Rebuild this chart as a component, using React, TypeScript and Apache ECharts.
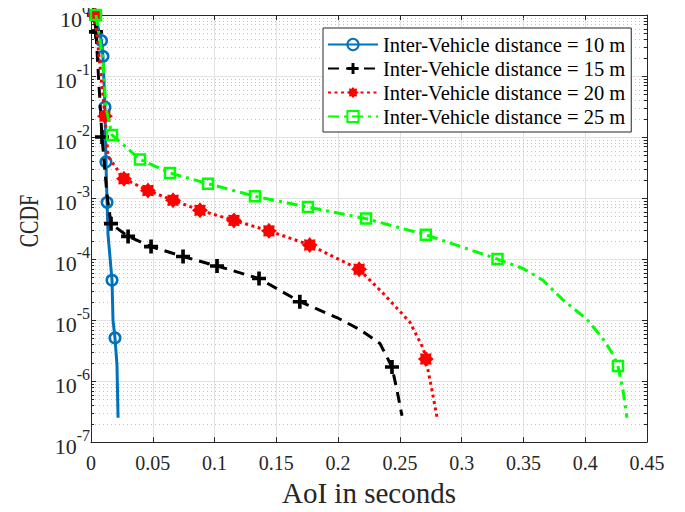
import React, { useEffect, useRef } from "react";
import * as echarts from "echarts";

const FONT = '"Liberation Serif", "Times New Roman", serif';

// x tick labels / axis extents
const xMin = 0;
const xMax = 0.45;
const xStep = 0.05;
const yMin = 1e-7;
const yMax = 1;
const minorFactors = [2, 3, 4, 5, 6, 7, 8, 9];
const decadeExps = [-7, -6, -5, -4, -3, -2, -1];

const seriesNames = [
  "Inter-Vehicle distance = 10 m",
  "Inter-Vehicle distance = 15 m",
  "Inter-Vehicle distance = 20 m",
  "Inter-Vehicle distance = 25 m",
];

// [AoI (s), CCDF]
const curve10: [number, number][] = [
  [0.0032, 1], [0.0085, 0.38], [0.0097, 0.21], [0.0113, 0.031], [0.0121, 0.0039],
  [0.013, 8.5e-4], [0.0138, 2.5e-4], [0.017, 4.5e-5], [0.0178, 1.0e-5], [0.0194, 5.1e-6],
  [0.021, 1.9e-6], [0.0219, 2.5e-7],
];
const markers10 = [0, 1, 2, 3, 4, 5, 7, 9];

const curve15: [number, number][] = [
  [0.0024, 1], [0.004, 0.53], [0.0089, 0.01], [0.013, 1.1e-3], [0.0162, 3.8e-4],
  [0.03, 2.35e-4], [0.0486, 1.6e-4], [0.0745, 1.1e-4], [0.102, 7.7e-5], [0.136, 4.8e-5],
  [0.169, 2.0e-5], [0.199, 1.1e-5], [0.218, 6.9e-6], [0.234, 4.1e-6], [0.2436, 1.7e-6],
  [0.2477, 7e-7], [0.2517, 2.7e-7],
];
const markers15 = [0, 1, 2, 4, 5, 6, 7, 8, 9, 10, 14];

const curve20: [number, number][] = [
  [0.0032, 1], [0.0113, 0.022], [0.0138, 0.0048], [0.0267, 2.07e-3], [0.0461, 1.33e-3],
  [0.0664, 9.2e-4], [0.0882, 6.3e-4], [0.1157, 4.3e-4], [0.144, 2.9e-4], [0.177, 1.7e-4],
  [0.217, 6.8e-5], [0.236, 2.8e-5], [0.258, 9.3e-6], [0.269, 3.4e-6], [0.271, 2.3e-6],
  [0.276, 7e-7], [0.28, 2.6e-7],
];
const markers20 = [0, 1, 3, 4, 5, 6, 7, 8, 9, 10, 14];

const curve25: [number, number][] = [
  [0.004, 1], [0.0097, 0.19], [0.0121, 0.03], [0.017, 0.0108], [0.0397, 4.3e-3],
  [0.0639, 2.58e-3], [0.0947, 1.72e-3], [0.1327, 1.07e-3], [0.1756, 7.1e-4], [0.2226, 4.6e-4],
  [0.271, 2.5e-4], [0.329, 1.0e-4], [0.3496, 7.0e-5], [0.3658, 4.5e-5], [0.382, 2.14e-5],
  [0.4014, 1.03e-5], [0.4144, 4.9e-6], [0.4225, 2.75e-6], [0.4265, 1.77e-6], [0.4306, 7e-7],
  [0.4338, 2.5e-7],
];
const markers25 = [0, 3, 4, 5, 6, 7, 8, 9, 10, 11, 18];

const PLUS = "path://M37,0H63V37H100V63H63V100H37V63H0V37H37Z";
function starPath(points: number, inner: number) {
  let d = "path://";
  for (let i = 0; i < points * 2; i++) {
    const r = i % 2 === 0 ? 50 : 50 * inner;
    const a = (Math.PI * i) / points - Math.PI / 2;
    d += (i === 0 ? "M" : "L") + (50 + r * Math.cos(a)).toFixed(2) + "," + (50 + r * Math.sin(a)).toFixed(2);
  }
  return d + "Z";
}
const STAR = starPath(8, 0.72);

function withMarkers(curve: [number, number][], marks: number[]) {
  return curve.map((p, i) => (marks.includes(i) ? { value: p } : { value: p, symbol: "none" }));
}

export default function App() {
  const ref = useRef<HTMLDivElement>(null);
  useEffect(() => {
    if (!ref.current) return;
    const chart = echarts.init(ref.current, null, { renderer: "svg" });
    const minorVals: number[][] = [];
    decadeExps.forEach((e) => minorFactors.forEach((f) => minorVals.push([0, f * Math.pow(10, e)])));
    const axisColor = "#262626";
    const gridColor = "#e3e3e3";
    const option: any = {
      animation: false,
      backgroundColor: "#fff",
      grid: { left: 91, top: 15, right: 38, bottom: 59 },
      graphic: [
        {
          type: "text",
          x: 28,
          y: 221,
          rotation: Math.PI / 2,
          scaleX: 0.72,
          style: {
            text: "CCDF",
            fontFamily: FONT,
            fontSize: 28,
            fill: "#262626",
            textAlign: "center",
            textVerticalAlign: "middle",
          },
        },
      ],
      legend: {
        left: 323,
        top: 28,
        orient: "vertical",
        padding: [6, 6, 5, 4],
        itemGap: 3,
        itemWidth: 50,
        itemHeight: 14,
        selectedMode: false,
        borderColor: axisColor,
        borderWidth: 1,
        backgroundColor: "#fff",
        data: seriesNames,
        textStyle: { fontFamily: FONT, fontSize: 20.5, lineHeight: 20, color: "#000" },
      },
      xAxis: [
        {
          type: "value",
          min: xMin,
          max: xMax,
          interval: xStep,
          name: "AoI in seconds",
          nameLocation: "middle",
          nameGap: 32,
          nameTextStyle: { fontFamily: FONT, fontSize: 29, color: "#262626" },
          axisLine: { show: true, onZero: false, lineStyle: { color: axisColor, width: 1 } },
          axisTick: { show: true, inside: true, length: 5, lineStyle: { color: axisColor } },
          axisLabel: { fontFamily: FONT, fontSize: 20, color: "#262626", margin: 11 },
          splitLine: { show: true, lineStyle: { color: gridColor, width: 1 } },
        },
        {
          type: "value",
          position: "top",
          min: xMin,
          max: xMax,
          interval: xStep,
          axisLine: { show: true, onZero: false, lineStyle: { color: axisColor, width: 1 } },
          axisTick: { show: true, inside: true, length: 5, lineStyle: { color: axisColor } },
          axisLabel: { show: false },
          splitLine: { show: false },
        },
      ],
      yAxis: [
        {
          type: "log",
          logBase: 10,
          min: yMin,
          max: yMax,
          axisLine: { show: true, onZero: false, lineStyle: { color: axisColor, width: 1 } },
          axisTick: { show: true, inside: true, length: 5, lineStyle: { color: axisColor } },
          axisLabel: {
            margin: 1,
            formatter: (v: number) => `{b|10}{s|${Math.round(Math.log10(v))}}`,
            rich: {
              b: { fontFamily: FONT, fontSize: 22, color: "#262626", lineHeight: 30, verticalAlign: "bottom" },
              s: { fontFamily: FONT, fontSize: 16, color: "#262626", lineHeight: 16, verticalAlign: "top" },
            },
          },
          splitLine: { show: true, lineStyle: { color: gridColor, width: 1 } },
        },
        {
          type: "log",
          logBase: 10,
          position: "right",
          min: yMin,
          max: yMax,
          axisLine: { show: true, onZero: false, lineStyle: { color: axisColor, width: 1 } },
          axisTick: { show: true, inside: true, length: 5, lineStyle: { color: axisColor } },
          axisLabel: { show: false },
          splitLine: { show: false },
        },
      ],
      series: [
        {
          type: "custom",
          name: "minor",
          z: 1,
          silent: true,
          data: minorVals,
          renderItem: (params: any, api: any) => {
            const p = api.coord([0, api.value(1)]);
            const cs = params.coordSys;
            const y = Math.round(p[1]) + 0.5;
            return {
              type: "group",
              children: [
                { type: "line", shape: { x1: cs.x, y1: y, x2: cs.x + cs.width, y2: y }, style: { stroke: "#c4c4c4", lineWidth: 1, lineDash: [1, 3] } },
                { type: "line", shape: { x1: cs.x, y1: y, x2: cs.x + 3, y2: y }, style: { stroke: axisColor, lineWidth: 1 } },
                { type: "line", shape: { x1: cs.x + cs.width - 3, y1: y, x2: cs.x + cs.width, y2: y }, style: { stroke: axisColor, lineWidth: 1 } },
              ],
            };
          },
        },
        {
          type: "line",
          name: seriesNames[0],
          data: withMarkers(curve10, markers10),
          symbol: "circle",
          symbolSize: 10.5,
          z: 3,
          lineStyle: { color: "#0072BD", width: 3, type: "solid" },
          itemStyle: { color: "rgba(0,0,0,0)", borderColor: "#0072BD", borderWidth: 2.5 },
        },
        {
          type: "line",
          name: seriesNames[1],
          data: withMarkers(curve15, markers15),
          symbol: PLUS,
          symbolSize: 14,
          z: 4,
          lineStyle: { color: "#000000", width: 3, type: [11, 7] },
          itemStyle: { color: "#000000" },
        },
        {
          type: "line",
          name: seriesNames[2],
          data: withMarkers(curve20, markers20),
          symbol: STAR,
          symbolSize: 16,
          z: 5,
          lineStyle: { color: "#FF0000", width: 3, type: [3, 3.5] },
          itemStyle: { color: "#FF0000" },
        },
        {
          type: "line",
          name: seriesNames[3],
          data: withMarkers(curve25, markers25),
          symbol: "rect",
          symbolSize: 10,
          z: 6,
          lineStyle: { color: "#00FF00", width: 3, type: [11, 5, 3, 5] },
          itemStyle: { color: "rgba(0,0,0,0)", borderColor: "#00FF00", borderWidth: 2.5 },
        },
      ],
    };
    chart.setOption(option);
    return () => chart.dispose();
  }, []);
  return <div ref={ref} style={{ width: 685, height: 512, margin: -8 }} />;
}
